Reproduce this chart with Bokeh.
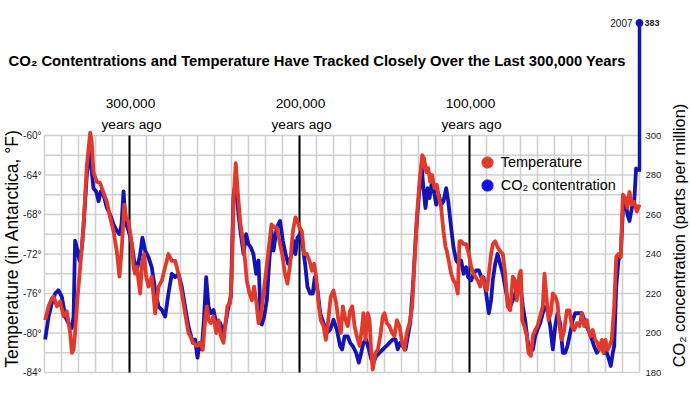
import math
from bokeh.plotting import figure
from bokeh.models import Range1d, LinearAxis, FixedTicker, Label, Legend, LegendItem
from bokeh.embed import file_html
from bokeh.resources import INLINE

# ---------------- data (thousands of years ago) ----------------
temp_kya = [349.6, 347.6, 345.7, 344.7, 342.7, 340.8, 338.8, 336.9, 334.9, 333.9, 332.9, 332.0,
            331.0, 329.0, 327.1, 325.1, 323.1, 322.2, 321.2, 319.2, 317.3, 315.3, 313.3, 311.4,
            309.4, 307.5, 305.9, 304.5, 303.1, 302.0, 300.6, 298.6, 297.6, 296.7, 295.7, 294.7,
            293.7, 292.7, 291.4, 290.2, 288.8, 286.9, 284.9, 282.9, 281.0, 279.0, 277.1, 275.1,
            273.1, 271.2, 269.2, 267.3, 265.3, 264.3, 262.4, 260.4, 258.4, 256.9, 255.5, 254.5,
            253.5, 252.2, 250.6, 249.0, 247.6, 246.3, 244.7, 243.7, 242.4, 240.8, 239.8, 238.8,
            237.5, 236.3, 234.9, 233.3, 232.0, 231.0, 229.4, 228.0, 226.7, 225.5, 224.1, 222.7,
            221.2, 219.6, 218.0, 216.5, 214.9, 213.3, 211.8, 210.2, 208.6, 207.1, 205.5, 203.9,
            202.4, 201.2, 200.0, 198.6, 197.3, 195.7, 194.1, 192.7, 191.4, 190.2, 188.8, 187.5,
            185.9, 184.5, 183.1, 181.6, 180.0, 178.4, 177.1, 175.7, 174.5, 172.9, 171.6, 170.2,
            169.0, 167.6, 166.3, 164.7, 163.1, 162.4, 161.2, 159.8, 158.8, 157.8, 156.9, 155.3,
            153.9, 152.5, 151.0, 150.0, 148.6, 147.1, 145.5, 144.1, 142.7, 141.2, 139.6, 138.2,
            136.9, 135.3, 133.7, 132.4, 131.0, 129.4, 127.8, 126.7, 125.5, 124.3, 123.1, 122.0,
            120.6, 119.2, 118.0, 116.7, 115.3, 114.1, 113.3, 112.2, 110.8, 109.4, 108.2, 106.9,
            105.9, 104.9, 103.5, 102.0, 100.4, 99.0, 97.6, 96.5, 95.1, 93.7, 92.5, 91.2,
            89.8, 88.6, 87.3, 86.3, 84.9, 83.5, 82.0, 80.4, 79.0, 77.6, 76.1, 74.5,
            73.1, 72.2, 70.6, 69.8, 69.0, 67.8, 66.3, 65.3, 63.9, 62.7, 61.4, 60.0,
            58.4, 56.9, 55.9, 54.9, 53.5, 52.2, 51.0, 49.6, 48.2, 47.1, 45.7, 44.3,
            42.7, 41.2, 39.8, 38.4, 36.9, 35.3, 33.9, 32.5, 31.0, 30.0, 28.6, 27.5,
            26.1, 24.7, 23.5, 22.2, 21.2, 20.0, 18.8, 17.6, 16.3, 14.9, 13.7, 12.4,
            11.0, 9.8, 8.4, 7.1, 5.9, 4.5, 3.1, 1.6, 0.0]
temp_f = [-78.7, -77.3, -76.5, -76.3, -77.3, -76.8, -78.3, -77.8, -80.0, -82.0, -81.7, -80.0,
          -77.3, -73.3, -69.3, -63.0, -59.7, -60.7, -63.7, -64.7, -64.8, -65.8, -66.7, -68.3,
          -69.7, -71.7, -74.3, -71.3, -67.0, -68.3, -68.7, -71.0, -73.3, -74.0, -73.3, -74.7,
          -76.0, -73.0, -72.0, -74.3, -75.3, -74.3, -78.0, -75.3, -74.7, -73.3, -72.0, -72.7,
          -72.7, -74.0, -76.0, -78.0, -80.0, -80.3, -81.0, -81.3, -81.0, -81.7, -78.7, -77.3,
          -78.7, -79.0, -78.3, -80.0, -78.7, -80.3, -81.0, -79.3, -77.3, -77.0, -74.3, -66.7,
          -62.8, -65.7, -68.7, -70.7, -72.7, -74.7, -76.0, -76.7, -75.3, -76.7, -79.0, -78.3,
          -76.0, -73.7, -71.3, -69.0, -69.3, -69.3, -70.7, -72.0, -74.0, -75.0, -73.0, -69.7,
          -68.3, -68.7, -69.3, -69.7, -72.0, -72.0, -72.7, -73.7, -73.0, -74.3, -77.0, -78.7,
          -79.3, -80.7, -78.7, -76.3, -75.7, -77.0, -78.7, -80.0, -77.3, -78.7, -79.3, -77.7,
          -77.3, -79.3, -80.3, -81.3, -79.3, -78.0, -80.7, -78.0, -78.7, -82.0, -83.7, -82.0,
          -81.7, -80.3, -78.3, -78.0, -79.0, -79.3, -80.0, -80.3, -78.7, -79.3, -81.0, -81.7,
          -80.0, -79.0, -77.3, -73.0, -68.3, -64.7, -62.0, -62.3, -63.7, -63.3, -64.7, -64.0,
          -65.3, -65.0, -66.3, -67.3, -69.7, -71.3, -71.7, -72.7, -74.0, -74.7, -75.0, -76.0,
          -70.7, -70.7, -71.0, -71.0, -72.0, -73.3, -74.0, -74.3, -74.7, -75.3, -74.3, -75.0,
          -75.7, -74.0, -72.0, -71.0, -70.7, -71.3, -71.7, -72.0, -74.0, -77.3, -77.7, -74.3,
          -74.7, -76.7, -74.0, -73.7, -78.7, -79.3, -80.3, -82.0, -82.3, -80.3, -79.7, -79.3,
          -78.3, -77.3, -74.0, -76.0, -78.7, -78.0, -76.0, -76.3, -77.0, -79.3, -80.7, -79.7,
          -77.7, -77.7, -79.3, -79.7, -79.0, -79.3, -78.0, -79.3, -78.7, -79.7, -80.3, -79.7,
          -80.7, -81.0, -81.7, -80.7, -82.0, -80.7, -81.7, -81.3, -80.7, -77.3, -72.3, -72.0,
          -72.3, -66.0, -66.3, -67.3, -65.7, -67.0, -66.7, -67.7, -67.0]

co2_kya = [349.6, 347.6, 345.7, 343.7, 341.8, 339.8, 337.8, 335.9, 333.9, 332.9, 332.0, 330.6,
           329.4, 328.0, 327.1, 325.1, 323.5, 322.2, 321.2, 319.6, 318.2, 316.9, 315.3, 313.3,
           311.4, 309.4, 307.5, 305.9, 304.7, 303.5, 302.4, 301.2, 300.0, 298.6, 297.3, 295.7,
           293.7, 292.4, 290.8, 288.8, 286.9, 284.9, 282.9, 281.0, 279.0, 277.1, 275.1, 273.1,
           271.2, 269.2, 267.3, 265.3, 264.3, 262.7, 261.4, 260.0, 258.8, 257.5, 256.1, 254.9,
           253.5, 252.2, 250.6, 248.6, 246.7, 244.7, 243.1, 241.8, 240.4, 238.8, 237.5, 235.9,
           234.5, 232.9, 231.4, 230.0, 228.6, 227.1, 225.5, 224.1, 223.1, 222.2, 220.8, 219.2,
           218.0, 216.5, 215.3, 213.7, 212.5, 211.4, 209.8, 208.2, 206.7, 205.1, 203.5, 202.4,
           201.2, 199.6, 198.0, 196.7, 195.3, 193.7, 192.2, 191.0, 189.4, 187.8, 185.9, 183.9,
           182.0, 180.0, 178.0, 176.1, 174.9, 173.5, 171.6, 170.2, 168.6, 166.7, 165.1, 163.7,
           162.4, 160.8, 159.2, 157.8, 156.5, 154.9, 152.9, 151.0, 149.0, 147.1, 145.1, 143.5,
           142.2, 140.8, 139.2, 137.6, 136.3, 134.9, 133.3, 131.4, 129.4, 128.2, 127.1, 125.9,
           124.7, 123.5, 122.4, 121.2, 119.6, 118.0, 116.7, 115.3, 113.7, 112.5, 110.8, 109.4,
           107.8, 106.3, 104.9, 103.5, 102.0, 100.8, 99.0, 97.6, 96.1, 94.5, 93.1, 91.8,
           90.2, 88.6, 87.3, 86.3, 84.9, 83.5, 82.0, 80.4, 79.0, 77.6, 76.1, 74.5,
           73.1, 71.8, 70.2, 68.6, 67.3, 65.9, 64.3, 62.7, 61.4, 60.0, 58.4, 56.9,
           55.5, 54.1, 52.5, 51.0, 49.6, 48.2, 46.7, 45.1, 43.7, 42.4, 40.8, 39.2,
           37.8, 35.9, 33.9, 32.5, 31.0, 29.4, 28.0, 26.7, 25.1, 23.5, 22.2, 20.8,
           19.2, 18.0, 16.9, 15.7, 14.9, 13.7, 12.4, 11.0, 9.8, 8.4, 7.1, 5.9,
           4.5, 3.1, 2.0, 0.6]
co2_ppm = [196.7, 208.3, 215.0, 220.0, 221.7, 218.3, 208.3, 205.0, 202.5, 208.3, 246.7, 241.7,
           236.7, 243.3, 253.3, 280.0, 293.3, 281.7, 273.3, 271.7, 266.7, 271.7, 270.0, 263.3,
           260.0, 255.0, 251.7, 250.0, 255.0, 271.7, 256.7, 253.3, 250.0, 245.0, 236.7, 231.7,
           240.0, 248.3, 241.7, 238.3, 233.3, 221.7, 213.3, 211.7, 208.3, 220.0, 230.0, 228.3,
           230.0, 223.3, 213.3, 203.3, 200.0, 195.0, 196.7, 187.5, 195.0, 191.7, 208.3, 228.3,
           213.3, 210.0, 211.7, 203.3, 205.0, 200.0, 206.7, 213.3, 218.3, 270.0, 276.7, 260.0,
           250.0, 240.0, 250.0, 245.0, 243.3, 240.0, 230.0, 236.7, 213.3, 204.2, 208.3, 216.7,
           233.3, 251.7, 241.7, 251.7, 255.0, 256.7, 246.7, 240.0, 235.0, 238.3, 246.7, 240.0,
           248.3, 250.0, 243.3, 235.0, 223.3, 220.0, 220.0, 228.3, 221.7, 210.0, 205.0, 200.0,
           201.7, 206.7, 201.7, 193.3, 191.7, 198.3, 198.3, 195.0, 193.3, 190.0, 185.0, 190.0,
           195.0, 196.7, 191.7, 186.7, 185.0, 188.3, 190.0, 191.7, 193.3, 195.0, 196.7, 196.7,
           191.7, 195.0, 193.3, 191.7, 198.3, 205.0, 223.3, 251.7, 273.3, 285.0, 273.3, 263.3,
           273.3, 268.3, 275.0, 273.3, 265.0, 270.0, 265.0, 266.7, 273.3, 266.7, 253.3, 243.3,
           236.7, 235.0, 236.7, 230.0, 233.3, 228.3, 226.7, 230.0, 231.7, 231.7, 228.3, 228.3,
           220.0, 210.0, 216.7, 226.7, 235.0, 240.0, 235.0, 230.0, 223.3, 216.7, 213.3, 216.7,
           220.0, 223.3, 225.0, 213.3, 206.7, 196.7, 190.0, 191.7, 198.3, 201.7, 205.0, 210.0,
           213.3, 211.7, 203.3, 191.7, 203.3, 210.0, 205.0, 190.0, 190.0, 193.3, 200.0, 206.7,
           210.0, 210.0, 210.0, 206.7, 203.3, 200.0, 196.7, 193.3, 190.0, 191.7, 193.3, 190.0,
           190.0, 186.7, 183.3, 190.0, 193.3, 223.3, 236.7, 240.0, 261.7, 268.3, 260.0, 256.7,
           263.3, 266.7, 283.3, 281.7]

co2_2007_kya = 0.0
co2_2007_ppm = 383
co2_2007_label = "2007"

marker_kya = [300, 200, 100]
marker_top = ["300,000", "200,000", "100,000"]
temp_ticks = [-84, -80, -76, -72, -68, -64, -60]
co2_ticks = [180, 200, 220, 240, 260, 280, 300]
grid_kya = list(range(0, 351, 10))
grid_temp = list(range(-84, -59, 2))

TITLE = "CO\u2082 Contentrations and Temperature Have Tracked Closely Over the Last 300,000 Years"

# ---------------- styles / layout ----------------
RED = "#e2392d"
BLUE = "#1414b4"
BLUE_DOT = "#1010e0"
FONT = "Liberation Sans"
W, H = 690, 400
PXK = 1.7          # px per 1000 years
PXF = 9.875        # px per degree F
x0 = 350 + 44 / PXK
x1 = x0 - W / PXK
y0 = -84 - 28 / PXF
y1 = y0 + H / PXF
k = 5.0            # ppm per degree F on the twin axis
c0, c1 = 180 + (y0 + 84) * k, 180 + (y1 + 84) * k

# broken scale used only for the 2007 value
SPIKE_AT = 357.0
last = co2_ppm[-1]
r = (SPIKE_AT - last) / (co2_2007_ppm - last)
s0, s1 = last + (c0 - last) / r, last + (c1 - last) / r

p = figure(width=W, height=H, x_range=Range1d(x0, x1), y_range=Range1d(y0, y1),
           output_backend="svg", toolbar_location=None, x_axis_location=None,
           min_border_left=0, min_border_right=0, min_border_top=0, min_border_bottom=0)
p.extra_y_ranges = {"co2": Range1d(c0, c1), "spike": Range1d(s0, s1)}
p.grid.visible = False
p.outline_line_color = None
p.background_fill_color = "white"
p.border_fill_color = "white"

# grid
GRID = "#d0d0d0"
p.segment(x0=[max(grid_kya)] * len(grid_temp), x1=[min(grid_kya)] * len(grid_temp),
          y0=grid_temp, y1=grid_temp, line_color=GRID, line_width=1.6)
p.segment(x0=grid_kya, x1=grid_kya, y0=[min(grid_temp)] * len(grid_kya),
          y1=[max(grid_temp)] * len(grid_kya), line_color=GRID, line_width=1.6)
p.segment(x0=marker_kya, x1=marker_kya, y0=[min(grid_temp)] * 3, y1=[max(grid_temp)] * 3,
          line_color="black", line_width=2)

# series
p.line(co2_kya, co2_ppm, y_range_name="co2", line_color=BLUE, line_width=3.8, line_join="round")
p.line([co2_2007_kya, co2_2007_kya], [last, co2_2007_ppm], y_range_name="spike",
       line_color=BLUE, line_width=3.5)
p.scatter([co2_2007_kya], [co2_2007_ppm], y_range_name="spike", size=7,
          fill_color=BLUE, line_color=BLUE)
p.line(temp_kya, temp_f, line_color=RED, line_width=3.8, line_join="round")

# axes (drawn at fixed data positions so that they take no border space)
def style_axis(ax, size, standoff, bold=False):
    ax.axis_line_color = None
    ax.major_tick_line_color = None
    ax.minor_tick_line_color = None
    ax.major_tick_out = 0
    ax.major_tick_in = 0
    ax.minor_tick_out = 0
    ax.major_label_standoff = standoff
    ax.major_label_text_font = FONT
    ax.major_label_text_font_size = size
    ax.major_label_text_color = "#222222"
    if bold:
        ax.major_label_text_font_style = "bold"

ya = p.yaxis[0]
ya.ticker = FixedTicker(ticks=temp_ticks, minor_ticks=[])
ya.major_label_overrides = {t: f"{t}\u00b0" for t in temp_ticks}
ya.fixed_location = max(grid_kya)
style_axis(ya, "10px", 3)

ra = LinearAxis(y_range_name="co2", ticker=FixedTicker(ticks=co2_ticks, minor_ticks=[]),
                fixed_location=min(grid_kya))
style_axis(ra, "9.5px", 6)
p.add_layout(ra, "right")

sa = LinearAxis(y_range_name="spike", ticker=FixedTicker(ticks=[co2_2007_ppm], minor_ticks=[]),
                fixed_location=co2_2007_kya)
style_axis(sa, "9px", 5, bold=True)
p.add_layout(sa, "right")

# texts
p.add_layout(Label(x=8, y=340, x_units="screen", y_units="screen", text=TITLE,
                   text_font=FONT, text_font_style="bold", text_font_size="14.8px",
                   text_baseline="middle", text_color="black"))
for xk, t in zip(marker_kya, marker_top):
    p.add_layout(Label(x=xk, y=297, x_units="data", y_units="screen", x_offset=1, text=t,
                       text_font=FONT, text_font_size="13.7px", text_align="center",
                       text_baseline="middle", text_color="black"))
    p.add_layout(Label(x=xk, y=276, x_units="data", y_units="screen", x_offset=2,
                       text="years ago", text_font=FONT, text_font_size="13.7px",
                       text_align="center", text_baseline="middle", text_color="black"))

p.add_layout(Label(x=11, y=152, x_units="screen", y_units="screen", angle=math.pi / 2,
                   text="Temperature (in Antarctica, \u00b0F)", text_font=FONT,
                   text_font_size="17.5px", text_align="center", text_baseline="middle",
                   text_color="black"))
p.add_layout(Label(x=678, y=165, x_units="screen", y_units="screen", angle=math.pi / 2,
                   text="CO\u2082 concentration (parts per million)", text_font=FONT,
                   text_font_size="16.3px", text_align="center", text_baseline="middle",
                   text_color="black"))
p.add_layout(Label(x=co2_2007_kya, y=378, x_units="data", y_units="screen", x_offset=-7,
                   text=co2_2007_label, text_font=FONT, text_font_size="10px",
                   text_align="right", text_baseline="middle", text_color="#111111"))

# legend (two single-item legends, dummy renderers with one non-drawable point)
nan = float("nan")
r_t = p.scatter([nan], [nan], fill_color=RED, line_color=RED, size=12)
r_c = p.scatter([nan], [nan], fill_color=BLUE_DOT, line_color=BLUE_DOT, size=12)
for rr, lab, yy in [(r_t, "Temperature", 223.7), (r_c, "CO\u2082 contentration", 201)]:
    lg = Legend(items=[LegendItem(label=lab, renderers=[rr])], location=(472.7, yy),
                glyph_width=28, glyph_height=28, label_standoff=-8, padding=0, margin=0,
                border_line_color=None, background_fill_alpha=0,
                label_text_font=FONT, label_text_font_size="14.5px", label_text_color="black")
    p.add_layout(lg, "center")

open("out.html", "w").write(file_html(p, INLINE))
